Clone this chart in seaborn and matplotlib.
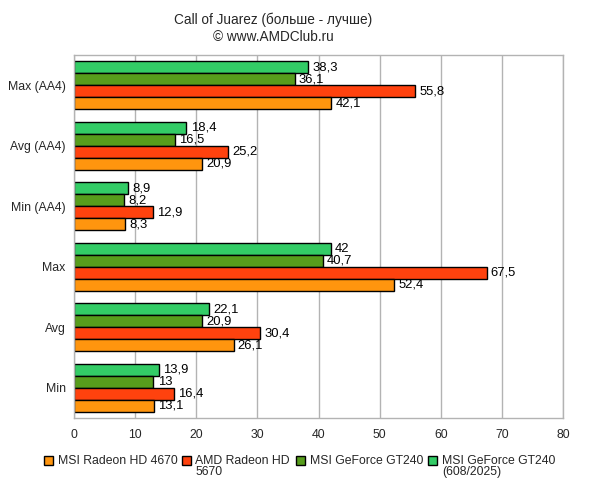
import matplotlib
matplotlib.use("Agg")
import matplotlib.pyplot as plt
import seaborn as sns
import pandas as pd
from matplotlib.patches import Rectangle

categories = ["Max (AA4)", "Avg (AA4)", "Min (AA4)", "Max", "Avg", "Min"]
cards = ["MSI Radeon HD 4670", "AMD Radeon HD\n5670", "MSI GeForce GT240", "MSI GeForce GT240\n(608/2025)"]
hd4670 = [42.1, 20.9, 8.3, 52.4, 26.1, 13.1]
hd5670 = [55.8, 25.2, 12.9, 67.5, 30.4, 16.4]
gt240 = [36.1, 16.5, 8.2, 40.7, 20.9, 13.0]
gt240oc = [38.3, 18.4, 8.9, 42.0, 22.1, 13.9]
colors = ["#ff950e", "#ff420e", "#579d1c", "#33cc66"]
xticks = [0, 10, 20, 30, 40, 50, 60, 70, 80]

series = [hd4670, hd5670, gt240, gt240oc]
rows = []
for card, vals in zip(cards, series):
    for c, v in zip(categories, vals):
        rows.append({"cat": c, "card": card, "value": v})
df = pd.DataFrame(rows)

sns.set_style("white")
plt.rcParams["font.family"] = ["Liberation Sans", "DejaVu Sans"]

FS = 8.8
W, H = 594, 496
fig = plt.figure(figsize=(W/100, H/100), dpi=100)
ax = fig.add_axes([74/W, 1-418/H, (563-74)/W, (418-55)/H])

hue_order = cards[::-1]
palette = dict(zip(cards, colors))
sns.barplot(data=df, x="value", y="cat", hue="card", hue_order=hue_order,
            order=categories, palette=palette, width=0.8, edgecolor="black",
            linewidth=1, orient="h", legend=False, ax=ax, saturation=1)

for cont in ax.containers:
    labels = [f"{b.get_width():g}".replace(".", ",") for b in cont]
    ax.bar_label(cont, labels=labels, padding=3, fontsize=9.4, color="black")

ax.set_xlim(0, 80)
ax.set_xticks(xticks)
ax.set_xticklabels([str(t) for t in xticks], fontsize=FS)
ax.set_ylim(5.5, -0.5)
ax.set_yticks(range(len(categories)))
ax.set_yticklabels(categories, fontsize=FS)
ax.set_yticks([i - 0.5 for i in range(len(categories) + 1)], minor=True)
ax.tick_params(axis="y", which="major", length=0, pad=6)
ax.tick_params(axis="y", which="minor", length=4, color="#b3b3b3", direction="out")
ax.tick_params(axis="x", which="major", length=4, color="#b3b3b3", direction="out", pad=4)
ax.set_xlabel("")
ax.set_ylabel("")
ax.grid(axis="x", color="#b3b3b3", linewidth=1)
ax.set_axisbelow(True)
for s in ax.spines.values():
    s.set_color("#b3b3b3")
    s.set_linewidth(1)

fig.text(0.46, 1 - 13/H, "Call of Juarez (больше - лучше)\n© www.AMDClub.ru",
         ha="center", va="top", fontsize=9.8, linespacing=1.22)

# legend (manual, to match top-aligned multi-line labels)
sq_x = [44, 182, 296, 428]
tx_x = [58, 195, 310, 442]
for x, tx, c, lab in zip(sq_x, tx_x, colors, cards):
    fig.add_artist(Rectangle((x/W, 1-464.5/H), 9/W, 9/H, transform=fig.transFigure,
                             facecolor=c, edgecolor="black", linewidth=1))
    fig.text(tx/W, 1-454.5/H, lab, ha="left", va="top", fontsize=FS,
             linespacing=0.95)

fig.savefig("out.png", dpi=100)
